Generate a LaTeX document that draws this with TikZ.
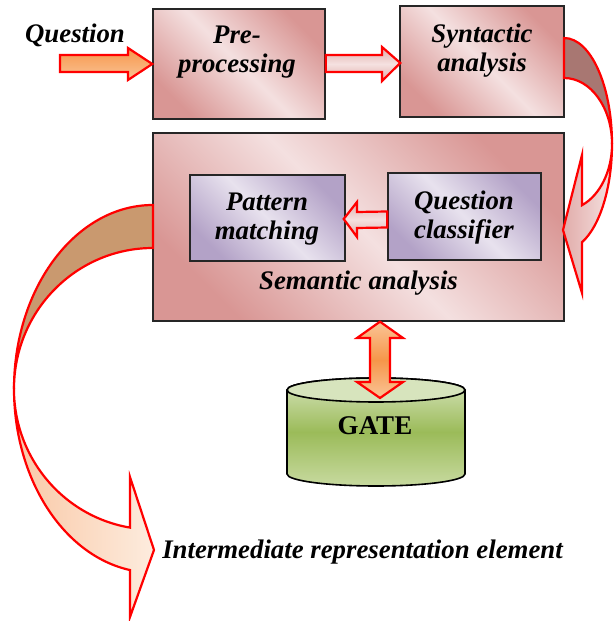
\documentclass[tikz,border=0pt]{standalone}
\usepackage{fontspec}
\setmainfont{Liberation Serif}
\usetikzlibrary{calc}
\definecolor{pinkD}{RGB}{217,150,148}
\definecolor{pinkL}{RGB}{244,224,224}
\definecolor{purD}{RGB}{179,162,199}
\definecolor{purL}{RGB}{232,226,238}
\definecolor{grnT}{RGB}{215,228,189}
\definecolor{grnM}{RGB}{155,187,89}
\definecolor{grnB}{RGB}{200,218,160}
\definecolor{orgD}{RGB}{246,150,74}
\definecolor{orgL}{RGB}{250,196,150}
\definecolor{brownA}{RGB}{168,119,114}
\definecolor{tanA}{RGB}{201,153,111}
\definecolor{peachL}{RGB}{249,200,166}
\definecolor{peachR}{RGB}{253,236,222}
\definecolor{rpinkL}{RGB}{225,172,170}
\definecolor{rpinkR}{RGB}{245,225,224}
\begin{document}
\begin{tikzpicture}[x=1pt,y=1pt,
  lbl/.style={font=\fontsize{26.8}{29}\selectfont\bfseries\itshape, align=center, anchor=base, inner sep=0pt},
  boxbase/.style={draw=black!85, line width=1.4pt, inner sep=0pt},
  pinkbox/.style={boxbase, top color=pinkD, bottom color=pinkD, middle color=pinkL, shading angle=-45},
  purbox/.style={boxbase, top color=purD, bottom color=purD, middle color=purL, shading angle=-45},
  redline/.style={draw=red, line width=2.2pt, line join=miter},
]
\useasboundingbox (0,0) rectangle (613,621);

% boxes
\node[pinkbox, minimum width=172, minimum height=110] (pre) at (239,557) {};
\node[pinkbox, minimum width=164, minimum height=111] (syn) at (482,559.5) {};
\node[pinkbox, minimum width=411, minimum height=188] (sem) at (358.5,394) {};
\node[purbox, minimum width=155, minimum height=86] (pat) at (267.5,403) {};
\node[purbox, minimum width=153, minimum height=87] (qc) at (464.5,404.5) {};

% texts (base = baseline of last line)
\node[lbl] (qt) at (75,578) {Question};
\node[lbl] (pret) at (237,548) {Pre-\\processing};
\node[lbl] (synt) at (482,549) {Syntactic\\analysis};
\node[lbl] (patt) at (267,381) {Pattern\\matching};
\node[lbl] (qct) at (464,382) {Question\\classifier};
\node[lbl] (semt) at (358.5,331) {Semantic analysis};
\node[lbl] (inter) at (362.5,62) {Intermediate representation element};

% GATE cylinder
\path[draw=black, line width=1.6pt, top color=grnT, bottom color=grnB, middle color=grnM]
  (287,231) -- (287,147) arc[start angle=180, end angle=360, x radius=89, y radius=12]
  -- (465,231) arc[start angle=0, end angle=180, x radius=89, y radius=12] -- cycle;
\path[draw=black, line width=1.6pt, fill=grnT] (376,231) ellipse[x radius=89, y radius=12];
\node[font=\fontsize{27}{30}\selectfont\bfseries, anchor=base, inner sep=0pt] (gate) at (375,186) {GATE};

% straight block arrows
\path[redline, top color=orgD, bottom color=orgL]
  (60,566) -- (128,566) -- (128,573) -- (pre.west) -- (128,541) -- (128,549) -- (60,549) -- cycle;
\path[redline, top color=rpinkL, bottom color=rpinkL, middle color=rpinkR]
  ($(pre.east)+(0,9)$) -- (382,566) -- (382,574) -- ($(syn.west)+(1,-1.5)$) -- (382,540) -- (382,549) -- ($(pre.east)+(0,-8)$) -- cycle;
\path[redline, top color=rpinkL, bottom color=rpinkL, middle color=rpinkR]
  ($(qc.west)+(0,5)$) -- (357,409) -- (357,419) -- ($(pat.east)+(-2,-1)$) -- (357,384) -- (357,393) -- ($(qc.west)+(0,-11)$) -- cycle;
\path[redline, top color=orgL, bottom color=orgL, middle color=orgD]
  ($(sem.south)+(21.5,0)$) -- (403,283) -- (390,283) -- (390,239) -- (403,239) -- (380,223) -- (357,239) -- (370,239) -- (370,283) -- (357,283) -- cycle;

% right curved arrow (syntactic -> semantic)
\path[redline, fill=brownA]
  (564,583) arc[start angle=90, end angle=0, x radius=48, y radius=106]
  arc[start angle=0, end angle=90, x radius=48, y radius=66] -- cycle;
\path[redline, left color=rpinkL, right color=rpinkR]
  (612,477) arc[start angle=0, end angle=-68, x radius=48, y radius=106]
  -- (582,328) -- (563,391) -- (582,466) -- (582,415.8)
  arc[start angle=-68, end angle=0, x radius=48, y radius=66] -- cycle;

% left curved arrow (semantic -> intermediate)
\path[redline, fill=tanA]
  (153,416) arc[start angle=90, end angle=180, x radius=139, y radius=183.8]
  arc[start angle=180, end angle=90, x radius=139, y radius=140.8] -- cycle;
\path[redline, left color=peachL, right color=peachR]
  (14,232.2) arc[start angle=180, end angle=260.5, x radius=139, y radius=183.8]
  -- (130,4) -- (154,71) -- (130,144) -- (130,93.4)
  arc[start angle=260.5, end angle=180, x radius=139, y radius=140.8] -- cycle;
\end{tikzpicture}
\end{document}
